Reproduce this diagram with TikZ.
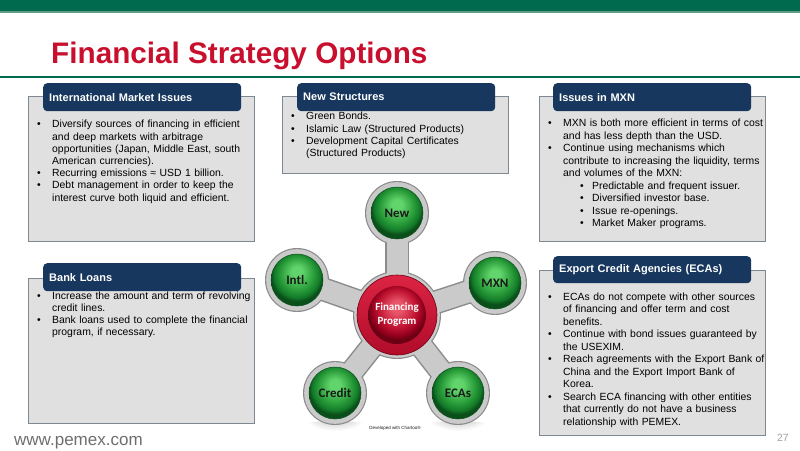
\documentclass[tikz,border=0pt]{standalone}
\usepackage{fontspec}
\setmainfont{Liberation Sans}
\newfontfamily\calib{Carlito}
\usetikzlibrary{positioning}
\pgfdeclarelayer{background}
\pgfsetlayers{background,main}

\definecolor{pemexgreen}{HTML}{006A4E}
\definecolor{pemexlight}{HTML}{5E9C84}
\definecolor{titlered}{HTML}{C8102E}
\definecolor{tabblue}{HTML}{17375E}
\definecolor{panelfill}{HTML}{E0E0E0}
\definecolor{panelline}{HTML}{7D8892}
\definecolor{footgray}{HTML}{6E6E6E}
\definecolor{pagegray}{HTML}{A0A0A0}
\definecolor{balltext}{HTML}{1A1A1A}
\definecolor{armline}{HTML}{8C8C8C}
\definecolor{armgray}{HTML}{CACACA}
\definecolor{gbhi}{HTML}{62D46C}
\definecolor{gbmid}{HTML}{2A9E3A}
\definecolor{gbdark}{HTML}{137A29}
\definecolor{gbedge}{HTML}{0A4F1A}
\definecolor{rbhi}{HTML}{E8566A}
\definecolor{rbmid}{HTML}{C21533}
\definecolor{rbdark}{HTML}{96001E}
\definecolor{rbedge}{HTML}{6E0014}
\definecolor{ringtop}{HTML}{DC2444}
\definecolor{ringbot}{HTML}{B00C2A}

\pgfdeclareradialshading{greenball}{\pgfpoint{0bp}{9bp}}{color(0bp)=(gbhi); color(5bp)=(gbhi); color(16bp)=(gbmid); color(22bp)=(gbdark); color(25bp)=(gbedge); color(50bp)=(gbedge)}
\pgfdeclareradialshading{redball}{\pgfpoint{0bp}{8bp}}{color(0bp)=(rbhi); color(5bp)=(rbhi); color(16bp)=(rbmid); color(22bp)=(rbdark); color(25bp)=(rbedge); color(50bp)=(rbedge)}

\newcommand{\bitem}[1]{\par\hangindent=15pt\hangafter=1\noindent\makebox[15pt][l]{\textbullet}#1\par}
\newcommand{\sitem}[1]{\par\hangindent=44pt\hangafter=1\noindent\hspace*{32pt}\makebox[12pt][l]{\textbullet}#1\par}

\begin{document}
\begin{tikzpicture}[x=1pt, y=-1pt,
  panel/.style={draw=panelline, line width=1.2pt, fill=panelfill, anchor=north west, inner sep=0pt},
  tab/.style={fill=tabblue, rounded corners=4pt, anchor=north west, minimum height=28pt, inner xsep=6pt, text width=186pt, align=left, text=white, font=\bfseries\fontsize{11}{13}\selectfont},
  bodytext/.style={anchor=north west, inner sep=0pt, text width=232pt, align=left, font=\fontsize{10.4}{12.2}\selectfont},
  widetext/.style={bodytext, font=\fontsize{10.4}{12.5}\selectfont},
  ball/.style={circle, minimum size=52pt, inner sep=0pt, shade, shading=greenball, draw=gbedge, line width=0.5pt, font=\calib\bfseries\fontsize{13}{13}\selectfont, text=balltext},
  hub/.style={circle, minimum size=58pt, inner sep=0pt, shade, shading=redball, align=center, font=\calib\bfseries\fontsize{11}{14}\selectfont, text=white},
  armedge/.style={draw=armline, line width=24pt},
  armbody/.style={draw=armgray, line width=21pt}]
  \useasboundingbox (0,0) rectangle (800,450);

  \fill[pemexgreen] (0,0) rectangle (800,11);
  \fill[pemexlight] (0,11) rectangle (800,12.5);
  \node[anchor=base west, inner sep=0pt, font=\bfseries\fontsize{29.7}{30}\selectfont, text=titlered] (title) at (51,63) {Financial Strategy Options};
  \fill[pemexgreen] (0,76) rectangle (800,78);

  \node[panel, minimum width=226pt, minimum height=145pt] (intlbox) at (28,96) {};
  \node[tab] (intlhead) at (43,83) {International Market Issues};
  \node[bodytext] (intltext) at (37,115.4) {\bitem{Diversify sources of financing in efficient\newline and deep markets with arbitrage\newline opportunities (Japan, Middle East, south\newline American currencies).}\bitem{Recurring emissions ≈ USD 1 billion.}\bitem{Debt management in order to keep the\newline interest curve both liquid and efficient.}};

  \node[panel, minimum width=226pt, minimum height=77pt] (newbox) at (282,96) {};
  \node[tab] (newhead) at (297,83) {New Structures};
  \node[bodytext] (newtext) at (291,107.4) {\bitem{Green Bonds.}\bitem{Islamic Law (Structured Products)}\bitem{Development Capital Certificates\newline (Structured Products)}};

  \node[panel, minimum width=226pt, minimum height=145pt] (mxnbox) at (539,96) {};
  \node[tab] (mxnhead) at (553,83) {Issues in MXN};
  \node[widetext] (mxntext) at (548,113.9) {\bitem{MXN is both more efficient in terms of cost\newline and has less depth than the USD.}\bitem{Continue using mechanisms which\newline contribute to increasing the liquidity, terms\newline and volumes of the MXN:}\sitem{Predictable and frequent issuer.}\sitem{Diversified investor base.}\sitem{Issue re-openings.}\sitem{Market Maker programs.}};

  \node[panel, minimum width=226pt, minimum height=145pt] (bankbox) at (28,278) {};
  \node[tab] (bankhead) at (43,263) {Bank Loans};
  \node[bodytext] (banktext) at (37,286.9) {\bitem{Increase the amount and term of revolving\newline credit lines.}\bitem{Bank loans used to complete the financial\newline program, if necessary.}};

  \node[panel, minimum width=226pt, minimum height=165pt] (ecabox) at (539,270) {};
  \node[tab, minimum height=27pt] (ecahead) at (553,256) {Export Credit Agencies (ECAs)};
  \node[widetext] (ecatext) at (548,287.4) {\bitem{ECAs do not compete with other sources\newline of financing and offer term and cost\newline benefits.}\bitem{Continue with bond issues guaranteed by\newline the USEXIM.}\bitem{Reach agreements with the Export Bank of\newline China and the Export Import Bank of\newline Korea.}\bitem{Search ECA financing with other entities\newline that currently do not have a business\newline relationship with PEMEX.}};

  \node[hub] (fp) at (397,315) {Financing\\Program};
  \node[ball] (new) at (397,213) {New};
  \node[ball] (intl) at (297,280) {Intl.};
  \node[ball] (mxn) at (495,283) {MXN};
  \node[ball] (credit) at (335,393) {Credit};
  \node[ball] (ecas) at (458,393) {ECAs};
  \begin{pgfonlayer}{background}
    \shade[inner color=black!35, outer color=white] (credit.center) ++(0,33) ellipse (34 and 5);
    \shade[inner color=black!35, outer color=white] (ecas.center) ++(0,33) ellipse (34 and 5);
    \foreach \b in {new,intl,mxn,credit,ecas}
      \draw[armedge] (fp.center) -- (\b.center);
    \foreach \b in {new,intl,mxn,credit,ecas}
      \fill[armline] (\b.center) circle (32);
    \fill[armline] (fp.center) circle (44);
    \foreach \b in {new,intl,mxn,credit,ecas}
      \draw[armbody] (fp.center) -- (\b.center);
    \foreach \b in {new,intl,mxn,credit,ecas}
      \fill[armgray] (\b.center) circle (30.8);
    \fill[armgray] (fp.center) circle (42.8);
    \shade[top color=ringtop, bottom color=ringbot, draw=rbedge, line width=0.6pt] (fp.center) circle (40);
  \end{pgfonlayer}
  \node[font=\fontsize{4.5}{5}\selectfont, text=balltext, inner sep=0pt] (credits) at (395,428) {Developed with Chartoo®};

  \node[anchor=base west, inner sep=0pt, font=\fontsize{17}{17}\selectfont, text=footgray] (web) at (14,445) {www.pemex.com};
  \node[anchor=base east, inner sep=0pt, font=\fontsize{10.5}{11}\selectfont, text=pagegray] (pagenum) at (789,441) {27};
\end{tikzpicture}
\end{document}
